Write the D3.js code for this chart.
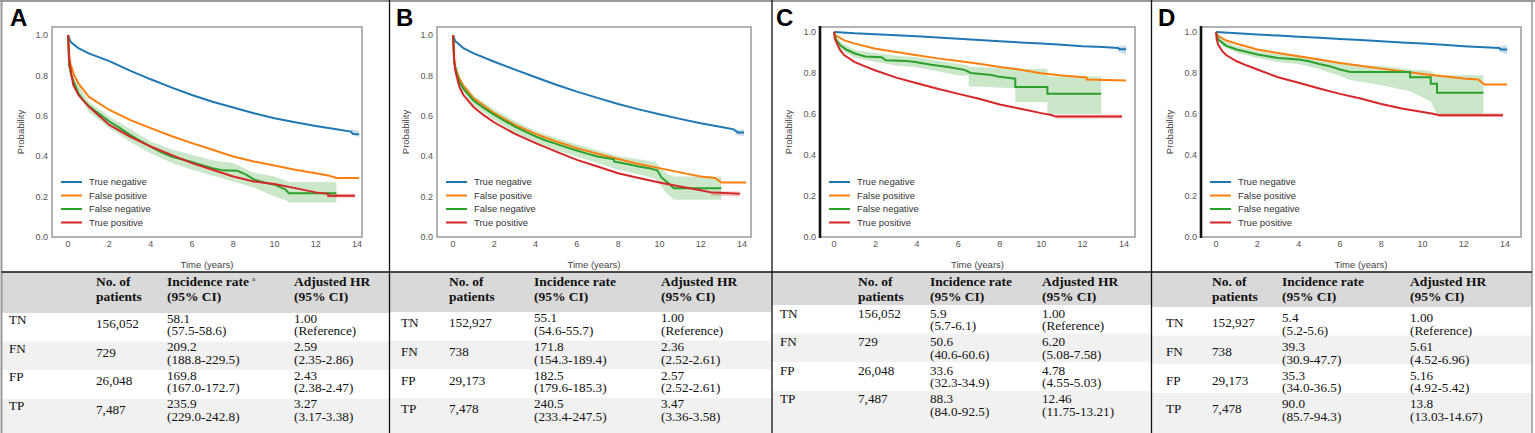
<!DOCTYPE html>
<html>
<head>
<meta charset="utf-8">
<script src="https://cdn.jsdelivr.net/npm/d3@7"></script>
<style>
body { margin: 0; background: #fff; }
svg { display: block; }
</style>
</head>
<body>
<svg id="fig" width="1535" height="433"></svg>
<script>
/* legend / series order */
var seriesNames = ['True negative', 'False positive', 'False negative', 'True positive'];
var seriesColors = ['#1f77b4', '#ff7f0e', '#2ca02c', '#d62728'];
var xTicks = [0, 2, 4, 6, 8, 10, 12, 14];
var yTicks = [0, 0.2, 0.4, 0.6, 0.8, 1.0];
var rowLabels = ['TN', 'FN', 'FP', 'TP'];

/* survival curves [years, probability] */
var tnA = [[0,1],[0.1,0.97],[0.2,0.959],[0.5,0.935],[1,0.909],[2,0.871],[3,0.824],[4,0.781],[5,0.741],[6,0.703],[7,0.670],[8,0.641],[9,0.613],[10,0.588],[11,0.568],[12,0.550],[13,0.534],[13.7,0.522],[13.8,0.510],[14.1,0.509]];
var fpA = [[0,1],[0.05,0.9],[0.1,0.86],[0.3,0.80],[0.5,0.761],[1,0.695],[2,0.629],[3,0.58],[4,0.539],[5,0.5],[6,0.465],[7,0.432],[8,0.399],[9,0.374],[10,0.354],[11,0.333],[12,0.316],[12.6,0.305],[13,0.292],[14.1,0.292]];
var fnA = [[0,1],[0.05,0.85],[0.15,0.8],[0.3,0.761],[0.5,0.712],[0.75,0.675],[1,0.649],[1.5,0.61],[2,0.572],[2.5,0.54],[3,0.506],[3.5,0.476],[4,0.448],[4.5,0.42],[5,0.399],[5.5,0.385],[6,0.371],[6.5,0.356],[7,0.341],[7.5,0.33],[8.2,0.328],[8.6,0.31],[9,0.285],[9.5,0.27],[10,0.259],[10.5,0.237],[10.7,0.217],[13,0.217]];
var tpA = [[0,1],[0.05,0.88],[0.1,0.843],[0.25,0.753],[0.5,0.703],[1,0.646],[1.5,0.6],[2,0.555],[3,0.497],[4,0.448],[5,0.407],[6,0.366],[7,0.333],[8,0.3],[9,0.275],[10,0.262],[11,0.242],[12,0.221],[12.6,0.214],[12.6,0.204],[13.9,0.204]];

var tnB = [[0,1],[0.1,0.97],[0.2,0.962],[0.5,0.935],[1,0.909],[2,0.868],[3,0.829],[4,0.791],[5,0.754],[6,0.72],[7,0.689],[8,0.659],[9,0.632],[10,0.608],[11,0.585],[12,0.563],[13,0.545],[13.6,0.533],[13.8,0.517],[14.1,0.517]];
var fpB = [[0,1],[0.05,0.88],[0.1,0.84],[0.3,0.786],[0.5,0.748],[1,0.687],[2,0.613],[3,0.555],[4,0.511],[5,0.473],[6,0.44],[7,0.412],[8,0.386],[9,0.362],[10,0.341],[11,0.32],[12,0.3],[12.7,0.292],[13,0.27],[14.2,0.27]];
var fnB = [[0,1],[0.05,0.87],[0.15,0.82],[0.3,0.769],[0.5,0.735],[1,0.675],[1.5,0.638],[2,0.605],[2.5,0.575],[3,0.547],[3.5,0.522],[4,0.498],[4.5,0.478],[5,0.461],[5.5,0.444],[6,0.428],[6.5,0.413],[7,0.399],[7.8,0.385],[7.8,0.374],[8.5,0.36],[9,0.349],[9.5,0.34],[9.9,0.33],[10.1,0.295],[10.4,0.27],[10.7,0.242],[13,0.242]];
var tpB = [[0,1],[0.05,0.88],[0.1,0.827],[0.3,0.745],[0.5,0.703],[1,0.643],[1.5,0.602],[2,0.567],[3,0.511],[4,0.465],[5,0.423],[6,0.382],[7,0.349],[8,0.316],[9,0.292],[10,0.27],[11,0.25],[12,0.231],[12.5,0.221],[13.9,0.214]];

var tnC = [[0,1],[1,0.993],[2,0.989],[3,0.984],[4,0.979],[5,0.973],[6,0.967],[7,0.961],[8,0.954],[9,0.949],[10,0.943],[11,0.937],[12,0.93],[13,0.926],[13.7,0.922],[13.8,0.915],[14.1,0.915]];
var fpC = [[0,1],[0.05,0.985],[0.2,0.976],[0.5,0.959],[1,0.943],[2,0.918],[3,0.902],[4,0.886],[5,0.871],[6,0.858],[7,0.845],[8,0.829],[9,0.816],[10,0.799],[11,0.788],[12.2,0.778],[12.2,0.768],[14.1,0.763]];
var fnC = [[0,1],[0.1,0.96],[0.3,0.935],[0.6,0.913],[1,0.895],[1.5,0.88],[2.3,0.876],[2.5,0.862],[3.5,0.858],[3.9,0.853],[4.7,0.84],[5.5,0.829],[6.3,0.815],[6.6,0.8],[7.6,0.79],[7.9,0.783],[8.75,0.772],[8.75,0.731],[10.3,0.731],[10.3,0.698],[12.9,0.698]];
var tpC = [[0,1],[0.03,0.97],[0.1,0.951],[0.3,0.91],[0.5,0.886],[1,0.853],[1.5,0.832],[2,0.812],[3,0.777],[4,0.75],[5,0.723],[6,0.698],[7,0.674],[8,0.646],[9,0.625],[10,0.604],[10.5,0.595],[10.7,0.587],[13.9,0.587]];

var tnD = [[0,1],[1,0.993],[2,0.987],[3,0.982],[4,0.976],[5,0.971],[6,0.966],[7,0.961],[8,0.955],[9,0.949],[10,0.943],[11,0.937],[12,0.93],[13,0.925],[13.7,0.922],[13.8,0.914],[14.1,0.914]];
var fpD = [[0,1],[0.05,0.985],[0.2,0.974],[0.5,0.958],[1,0.942],[2,0.914],[3,0.897],[4,0.881],[5,0.865],[6,0.849],[7,0.835],[8,0.821],[9,0.808],[10,0.795],[11,0.784],[12,0.773],[12.7,0.768],[13,0.744],[14.1,0.744]];
var fnD = [[0,1],[0.1,0.965],[0.2,0.955],[0.5,0.932],[1,0.914],[2,0.89],[3,0.873],[4,0.865],[4.5,0.857],[5,0.844],[5.5,0.833],[6,0.817],[6.5,0.805],[9.4,0.805],[9.4,0.779],[10.4,0.779],[10.4,0.747],[10.7,0.747],[10.7,0.703],[12.95,0.703]];
var tpD = [[0,1],[0.03,0.965],[0.1,0.938],[0.3,0.906],[0.5,0.886],[1,0.857],[1.5,0.836],[2,0.817],[3,0.779],[4,0.752],[5,0.724],[6,0.698],[7,0.675],[8,0.649],[9,0.627],[10,0.609],[10.5,0.601],[10.8,0.594],[13.9,0.594]];

/* 95% confidence bands [years, lower, upper] */
var bandTnA = [[13.7,0.51,0.535],[14.1,0.494,0.524]];
var bandFnA = [[0,1,1],[0.3,0.74,0.785],[1,0.62,0.67],[2,0.539,0.596],[3,0.472,0.535],[4,0.415,0.473],[5,0.368,0.435],[6,0.333,0.407],[7,0.305,0.38],[8,0.275,0.366],[9,0.245,0.318],[10,0.2,0.3],[10.5,0.185,0.28],[10.7,0.171,0.272],[13,0.171,0.272]];
var bandTpA = [[12.6,0.195,0.214],[13.9,0.195,0.214]];
var bandTnB = [[13.7,0.505,0.535],[14.1,0.5,0.53]];
var bandFnB = [[0,1,1],[0.3,0.745,0.79],[1,0.65,0.7],[2,0.578,0.632],[3,0.518,0.575],[4,0.47,0.525],[5,0.43,0.49],[6,0.398,0.458],[7,0.366,0.43],[8,0.333,0.4],[9,0.31,0.385],[9.8,0.29,0.372],[10.1,0.25,0.34],[10.4,0.21,0.31],[10.7,0.185,0.3],[13,0.185,0.3]];
var bandTpB = [[12.5,0.205,0.228],[13.9,0.2,0.225]];
var bandTnC = [[13.7,0.905,0.93],[14.1,0.889,0.935]];
var bandFnC = [[0,1,1],[0.3,0.915,0.952],[1,0.874,0.912],[2,0.853,0.897],[3,0.836,0.884],[4,0.828,0.876],[5,0.808,0.86],[6,0.788,0.845],[6.5,0.788,0.835],[6.5,0.735,0.83],[8.75,0.725,0.822],[8.75,0.657,0.82],[10.3,0.657,0.82],[10.3,0.6,0.783],[12.9,0.6,0.783]];
var bandTpC = [[10.7,0.578,0.596],[13.9,0.578,0.596]];
var bandTnD = [[13.7,0.905,0.93],[14.1,0.89,0.935]];
var bandFnD = [[0,1,1],[0.3,0.93,0.96],[1,0.898,0.93],[2,0.873,0.907],[3,0.853,0.892],[4,0.843,0.886],[5,0.818,0.868],[6,0.785,0.846],[6.5,0.765,0.838],[8,0.74,0.835],[9.4,0.711,0.817],[10.4,0.66,0.81],[10.7,0.597,0.789],[12.95,0.597,0.789]];
var bandTpD = [[10.8,0.585,0.602],[13.9,0.585,0.603]];

/* table values */
var patientsA = ['156,052', '729', '26,048', '7,487'];
var rateA = [['58.1', '(57.5-58.6)'], ['209.2', '(188.8-229.5)'], ['169.8', '(167.0-172.7)'], ['235.9', '(229.0-242.8)']];
var hrA = [['1.00', '(Reference)'], ['2.59', '(2.35-2.86)'], ['2.43', '(2.38-2.47)'], ['3.27', '(3.17-3.38)']];
var patientsB = ['152,927', '738', '29,173', '7,478'];
var rateB = [['55.1', '(54.6-55.7)'], ['171.8', '(154.3-189.4)'], ['182.5', '(179.6-185.3)'], ['240.5', '(233.4-247.5)']];
var hrB = [['1.00', '(Reference)'], ['2.36', '(2.52-2.61)'], ['2.57', '(2.52-2.61)'], ['3.47', '(3.36-3.58)']];
var patientsC = ['156,052', '729', '26,048', '7,487'];
var rateC = [['5.9', '(5.7-6.1)'], ['50.6', '(40.6-60.6)'], ['33.6', '(32.3-34.9)'], ['88.3', '(84.0-92.5)']];
var hrC = [['1.00', '(Reference)'], ['6.20', '(5.08-7.58)'], ['4.78', '(4.55-5.03)'], ['12.46', '(11.75-13.21)']];
var patientsD = ['152,927', '738', '29,173', '7,478'];
var rateD = [['5.4', '(5.2-5.6)'], ['39.3', '(30.9-47.7)'], ['35.3', '(34.0-36.5)'], ['90.0', '(85.7-94.3)']];
var hrD = [['1.00', '(Reference)'], ['5.61', '(4.52-6.96)'], ['5.16', '(4.92-5.42)'], ['13.8', '(13.03-14.67)']];

var panels = [
    { letter: 'A', letterX: 10, frame: [52, 362], xDomain: [-0.78, 14.24], yTop: 1.04, boldLeft: false,
      curves: [tnA, fpA, fnA, tpA], bands: [bandTnA, null, bandFnA, bandTpA],
      cols: [9, 96, 167, 294], headerBottom: 313, firstBase: 322.6, labelDy: 1.5, numDy: 5.5,
      patients: patientsA, rate: rateA, hr: hrA, note: true },
    { letter: 'B', letterX: 396, frame: [437, 751], xDomain: [-0.78, 14.44], yTop: 1.04, boldLeft: false,
      curves: [tnB, fpB, fnB, tpB], bands: [bandTnB, null, bandFnB, bandTpB],
      cols: [401, 449, 534, 661], headerBottom: 312, firstBase: 322.3, labelDy: 5, numDy: 5,
      patients: patientsB, rate: rateB, hr: hrB, note: false },
    { letter: 'C', letterX: 776, frame: [820, 1135], xDomain: [-0.68, 14.53], yTop: 1.024, boldLeft: true,
      curves: [tnC, fpC, fnC, tpC], bands: [bandTnC, null, bandFnC, bandTpC],
      cols: [780, 858, 930, 1042], headerBottom: 305, firstBase: 317.6, labelDy: 0, numDy: 0,
      patients: patientsC, rate: rateC, hr: hrC, note: false },
    { letter: 'D', letterX: 1158, frame: [1201, 1521], xDomain: [-0.73, 14.77], yTop: 1.024, boldLeft: true,
      curves: [tnD, fpD, fnD, tpD], bands: [bandTnD, null, bandFnD, bandTpD],
      cols: [1166, 1212, 1282, 1410], headerBottom: 307, firstBase: 322.3, labelDy: 5, numDy: 5,
      patients: patientsD, rate: rateD, hr: hrD, note: false }
];

var SANS = 'Liberation Sans, Arial, sans-serif';
var SERIF = 'Liberation Serif, Times New Roman, serif';
var plotTop = 27, plotBottom = 237, tableTop = 272, rowPitch = 28.6;
var dividers = [389.5, 772, 1151.5];

var svg = d3.select('#fig');

/* table backgrounds first, so the panel lines sit on top */
panels.forEach(function(p, i) {
    var left = i === 0 ? 2 : dividers[i - 1],
        right = i === 3 ? 1532 : dividers[i];
    svg.append('rect')
        .attr('x', left).attr('y', tableTop)
        .attr('width', right - left).attr('height', p.headerBottom - tableTop)
        .attr('fill', '#d9d9d9');
    rowLabels.forEach(function(r, j) {
        if (j % 2 === 1) {
            svg.append('rect')
                .attr('x', left).attr('y', p.headerBottom + j * rowPitch)
                .attr('width', right - left).attr('height', j === 3 ? 433 - p.headerBottom - j * rowPitch : rowPitch)
                .attr('fill', '#f1f1f1');
        }
    });
});

panels.forEach(function(p) {
    var x = d3.scaleLinear().domain(p.xDomain).range(p.frame),
        y = d3.scaleLinear().domain([0, p.yTop]).range([plotBottom, plotTop]);

    var g = svg.append('g');

    /* panel letter */
    g.append('text')
        .attr('x', p.letterX).attr('y', 26)
        .attr('font-family', SANS).attr('font-weight', 'bold').attr('font-size', 24)
        .attr('fill', '#000')
        .text(p.letter);

    /* confidence bands */
    var area = d3.area()
        .x(function(d) { return x(d[0]); })
        .y0(function(d) { return y(d[1]); })
        .y1(function(d) { return y(d[2]); });
    p.bands.forEach(function(b, k) {
        if (!b) return;
        g.append('path')
            .attr('d', area(b))
            .attr('fill', seriesColors[k])
            .attr('fill-opacity', 0.25);
    });

    /* survival curves */
    var line = d3.line()
        .x(function(d) { return x(d[0]); })
        .y(function(d) { return y(d[1]); });
    p.curves.forEach(function(c, k) {
        g.append('path')
            .attr('d', line(c))
            .attr('fill', 'none')
            .attr('stroke', seriesColors[k])
            .attr('stroke-width', 2);
    });

    /* frame */
    g.append('rect')
        .attr('x', p.frame[0]).attr('y', plotTop)
        .attr('width', p.frame[1] - p.frame[0]).attr('height', plotBottom - plotTop)
        .attr('fill', 'none').attr('stroke', '#8a8a8a').attr('stroke-width', 1.3);
    if (p.boldLeft) {
        g.append('line')
            .attr('x1', p.frame[0]).attr('x2', p.frame[0])
            .attr('y1', plotTop - 1).attr('y2', plotBottom + 1)
            .attr('stroke', '#111').attr('stroke-width', 2.6);
    }

    /* tick labels */
    g.selectAll('text.xt').data(xTicks).enter().append('text')
        .attr('x', function(d) { return x(d); })
        .attr('y', 246.5)
        .attr('text-anchor', 'middle')
        .attr('font-family', SANS).attr('font-size', 9).attr('fill', '#555')
        .text(function(d) { return d; });
    g.selectAll('text.yt').data(yTicks).enter().append('text')
        .attr('x', p.frame[0] - 4)
        .attr('y', function(d) { return y(d); })
        .attr('dy', '0.35em')
        .attr('text-anchor', 'end')
        .attr('font-family', SANS).attr('font-size', 9).attr('fill', '#555')
        .text(function(d) { return d3.format('.1f')(d); });

    /* axis titles */
    g.append('text')
        .attr('x', (p.frame[0] + p.frame[1]) / 2).attr('y', 267.5)
        .attr('text-anchor', 'middle')
        .attr('font-family', SANS).attr('font-size', 9.5).attr('fill', '#444')
        .text('Time (years)');
    g.append('text')
        .attr('transform', 'translate(' + (p.frame[0] - 28.5) + ',' + ((plotTop + plotBottom) / 2) + ') rotate(-90)')
        .attr('text-anchor', 'middle')
        .attr('font-family', SANS).attr('font-size', 9.5).attr('fill', '#444')
        .text('Probability');

    /* legend */
    seriesNames.forEach(function(name, k) {
        var ly = 182 + k * 13.5;
        g.append('line')
            .attr('x1', p.frame[0] + 9).attr('x2', p.frame[0] + 30)
            .attr('y1', ly).attr('y2', ly)
            .attr('stroke', seriesColors[k]).attr('stroke-width', 2);
        g.append('text')
            .attr('x', p.frame[0] + 37).attr('y', ly).attr('dy', '0.35em')
            .attr('font-family', SANS).attr('font-size', 9.5).attr('fill', '#333')
            .text(name);
    });

    /* table header */
    var head = [['No. of', 'patients'], ['Incidence rate', '(95% CI)'], ['Adjusted HR', '(95% CI)']];
    head.forEach(function(h, c) {
        var t1 = g.append('text')
            .attr('x', p.cols[c + 1]).attr('y', 286)
            .attr('font-family', SERIF).attr('font-weight', 'bold').attr('font-size', 13.5).attr('fill', '#111')
            .text(h[0]);
        if (c === 1 && p.note) {
            t1.append('tspan')
                .attr('dx', 3).attr('dy', -5)
                .attr('font-size', 7).attr('font-weight', 'normal')
                .text('a');
        }
        g.append('text')
            .attr('x', p.cols[c + 1]).attr('y', 300.5)
            .attr('font-family', SERIF).attr('font-weight', 'bold').attr('font-size', 13.5).attr('fill', '#111')
            .text(h[1]);
    });

    /* table rows */
    rowLabels.forEach(function(r, j) {
        var base = p.firstBase + j * rowPitch;
        g.append('text')
            .attr('x', p.cols[0]).attr('y', base + p.labelDy)
            .attr('font-family', SERIF).attr('font-size', 13.2).attr('fill', '#111')
            .text(r);
        g.append('text')
            .attr('x', p.cols[1]).attr('y', base + p.numDy)
            .attr('font-family', SERIF).attr('font-size', 13.2).attr('fill', '#111')
            .text(p.patients[j]);
        [p.rate[j], p.hr[j]].forEach(function(v, c) {
            g.append('text')
                .attr('x', p.cols[c + 2]).attr('y', base)
                .attr('font-family', SERIF).attr('font-size', 13.2).attr('fill', '#111')
                .text(v[0]);
            g.append('text')
                .attr('x', p.cols[c + 2]).attr('y', base + 12.6)
                .attr('font-family', SERIF).attr('font-size', 13.2).attr('fill', '#111')
                .text(v[1]);
        });
    });
});

/* outer border, panel dividers, table rule */
svg.append('line').attr('x1', 0).attr('x2', 1535).attr('y1', 1).attr('y2', 1)
    .attr('stroke', '#999').attr('stroke-width', 2);
svg.append('line').attr('x1', 1.5).attr('x2', 1.5).attr('y1', 0).attr('y2', 433)
    .attr('stroke', '#999').attr('stroke-width', 2);
svg.append('line').attr('x1', 1532).attr('x2', 1532).attr('y1', 0).attr('y2', 433)
    .attr('stroke', '#999').attr('stroke-width', 1.5);
dividers.forEach(function(dx) {
    svg.append('line').attr('x1', dx).attr('x2', dx).attr('y1', 0).attr('y2', 433)
        .attr('stroke', '#111').attr('stroke-width', 1.3);
});
svg.append('line').attr('x1', 1.5).attr('x2', 1532).attr('y1', tableTop).attr('y2', tableTop)
    .attr('stroke', '#111').attr('stroke-width', 1.3);
</script>
</body>
</html>
